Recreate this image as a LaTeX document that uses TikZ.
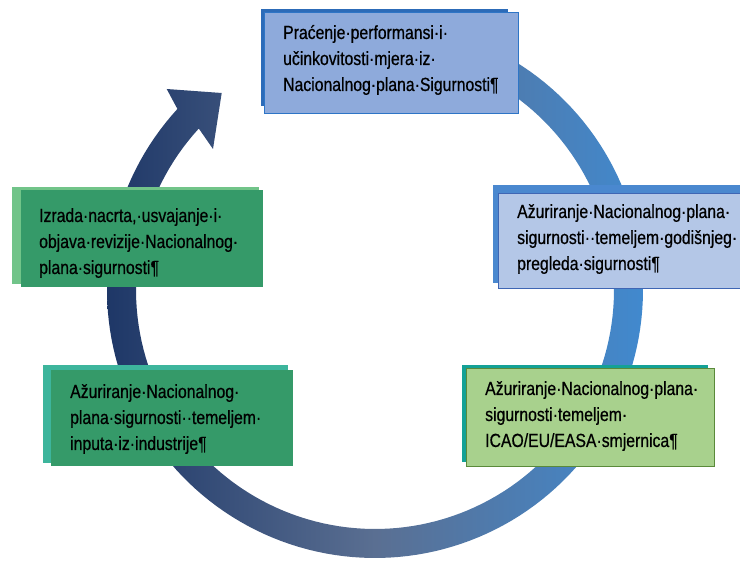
\documentclass[tikz,border=0pt]{standalone}
\usepackage{fontspec}
\newfontfamily\boxfont{Liberation Sans}[FakeStretch=0.83,FakeBold=0.6]
\usetikzlibrary{calc}
\definecolor{ringL}{HTML}{1E3767}
\definecolor{ringM}{HTML}{5A6F92}
\definecolor{ringR}{HTML}{4189CE}
\definecolor{topFill}{HTML}{8EAADB}
\definecolor{topLine}{HTML}{2E75C6}
\definecolor{topBack}{HTML}{2C6BB8}
\definecolor{rFill}{HTML}{B4C7E7}
\definecolor{rLine}{HTML}{3F66B4}
\definecolor{rBack}{HTML}{4A88CF}
\definecolor{brFill}{HTML}{A8D18D}
\definecolor{brLine}{HTML}{5A8A3A}
\definecolor{brBack}{HTML}{14A196}
\definecolor{gFill}{HTML}{359A69}
\definecolor{ltBack}{HTML}{71C489}
\definecolor{blBack}{HTML}{3DB59C}
\begin{document}
\begin{tikzpicture}[x=1pt,y=-1pt,
  backbox/.style={rectangle, draw=none, inner sep=0pt, anchor=north west},
  frontbox/.style={rectangle, inner sep=0pt, anchor=north west},
  lbl/.style={font=\boxfont\fontsize{19}{26}\selectfont, inner sep=0pt, anchor=base west, text=black}
]
\useasboundingbox (0,0) rectangle (740,561);

% circular arrow
\path[left color=ringL, right color=ringR, middle color=ringM]
  plot[domain=-90:222.5,samples=160] ({375+268*cos(\x)},{290+268*sin(\x)})
  -- (166.7,89) -- (221.7,93) -- (213,149)
  -- plot[domain=222.5:-90,samples=160] ({375+239*cos(\x)},{290+239*sin(\x)})
  -- cycle;

% back layers
\node[backbox, fill=topBack, minimum width=247pt, minimum height=97pt] (k1) at (261,9) {};
\node[backbox, fill=rBack, minimum width=250pt, minimum height=98pt] (k2) at (493,185) {};
\node[backbox, fill=brBack, minimum width=246pt, minimum height=97pt] (k3) at (462,365) {};
\node[backbox, fill=ltBack, minimum width=247pt, minimum height=97pt] (k4) at (12,187) {};
\node[backbox, fill=blBack, minimum width=245pt, minimum height=98pt] (k5) at (43,365) {};

% front boxes
\node[frontbox, fill=topFill, draw=topLine, line width=1.2pt, minimum width=254pt, minimum height=101pt] (b1) at (264,12) {};
\node[frontbox, fill=rFill, draw=rLine, line width=1pt, minimum width=246pt, minimum height=95pt] (b2) at (498,193) {};
\node[frontbox, fill=brFill, draw=brLine, line width=0.9pt, minimum width=248pt, minimum height=98pt] (b3) at (466,368) {};
\node[frontbox, fill=gFill, minimum width=242pt, minimum height=97pt] (b4) at (21,190) {};
\node[frontbox, fill=gFill, minimum width=242pt, minimum height=96pt] (b5) at (51,370) {};

% texts
\node[lbl] (t1) at ($(b1.north west)+(19,27)$) {\begin{tabular}[t]{@{}l@{}}Praćenje·performansi·i·\\učinkovitosti·mjera·iz·\\Nacionalnog·plana·Sigurnosti¶\end{tabular}};
\node[lbl] (t2) at ($(b2.north west)+(19,25)$) {\begin{tabular}[t]{@{}l@{}}Ažuriranje·Nacionalnog·plana·\\sigurnosti··temeljem·godišnjeg·\\pregleda·sigurnosti¶\end{tabular}};
\node[lbl] (t3) at ($(b3.north west)+(19,27)$) {\begin{tabular}[t]{@{}l@{}}Ažuriranje·Nacionalnog·plana·\\sigurnosti·temeljem·\\ICAO/EU/EASA·smjernica¶\end{tabular}};
\node[lbl] (t4) at ($(b4.north west)+(18,32)$) {\begin{tabular}[t]{@{}l@{}}Izrada·nacrta,·usvajanje·i·\\objava·revizije·Nacionalnog·\\plana·sigurnosti¶\end{tabular}};
\node[lbl] (t5) at ($(b5.north west)+(19,28)$) {\begin{tabular}[t]{@{}l@{}}Ažuriranje·Nacionalnog·\\plana·sigurnosti··temeljem·\\inputa·iz·industrije¶\end{tabular}};
\end{tikzpicture}
\end{document}
